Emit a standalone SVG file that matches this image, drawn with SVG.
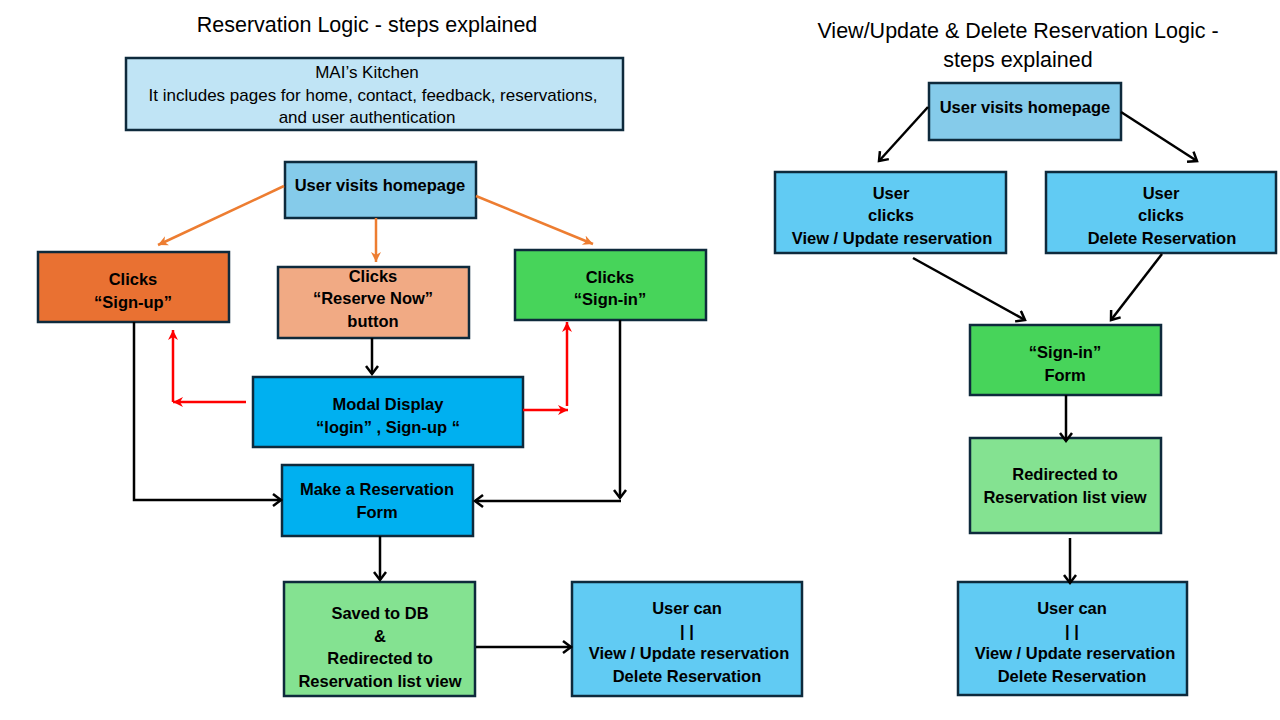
<svg xmlns="http://www.w3.org/2000/svg" width="1280" height="720" viewBox="0 0 1280 720">
<defs>
<marker id="ah" markerWidth="14" markerHeight="14" refX="10" refY="7" orient="auto" markerUnits="userSpaceOnUse"><path d="M2,1 L10,7 L2,13" fill="none" stroke="#000" stroke-width="2.5"/></marker>
<marker id="ao" markerWidth="12" markerHeight="12" refX="10" refY="5" orient="auto" markerUnits="userSpaceOnUse"><path d="M0,0 L10,5 L0,10 L3,5 Z" fill="#ed7d31"/></marker>
<marker id="ar" markerWidth="12" markerHeight="12" refX="10" refY="5" orient="auto" markerUnits="userSpaceOnUse"><path d="M0,0 L10,5 L0,10 L3,5 Z" fill="#ff0000"/></marker>
</defs>
<style>
.box{stroke:#0e2a3c;stroke-width:2.5}
.t{font-family:"Liberation Sans",Arial,sans-serif;font-weight:bold;font-size:16.5px;fill:#000;text-anchor:middle;dominant-baseline:central}
.n{font-family:"Liberation Sans",Arial,sans-serif;font-size:17px;fill:#000;text-anchor:middle;dominant-baseline:central}
.h{font-family:"Liberation Sans",Arial,sans-serif;font-size:21.5px;fill:#000;text-anchor:middle;dominant-baseline:central}
.k{fill:none;stroke:#000;stroke-width:2.5}
.o{fill:none;stroke:#ed7d31;stroke-width:2.5}
.r{fill:none;stroke:#ff0000;stroke-width:2.5}
</style>
<rect width="1280" height="720" fill="#fff"/>
<text class="h" x="367" y="25">Reservation Logic - steps explained</text>
<text class="h" x="1018" y="31">View/Update &amp; Delete Reservation Logic -</text>
<text class="h" x="1018" y="60">steps explained</text>

<g id="kitchen"><rect class="box" x="126" y="58" width="497" height="72" fill="#c0e4f5"/>
<text class="n" x="367" y="72">MAI’s Kitchen</text>
<text class="n" x="373" y="95">It includes pages for home, contact, feedback, reservations,</text>
<text class="n" x="367" y="117">and user authentication</text></g>

<g id="home1"><rect class="box" x="285" y="162" width="191" height="56" fill="#85cbea"/>
<text class="t" x="380" y="185">User visits homepage</text></g>

<g id="signup"><rect class="box" x="38" y="252" width="191" height="70" fill="#e97132"/>
<text class="t" x="133" y="279">Clicks</text><text class="t" x="133" y="302">“Sign-up”</text></g>

<g id="reserve"><rect class="box" x="278" y="267" width="191" height="71" fill="#f1aa84"/>
<text class="t" x="373" y="276">Clicks</text><text class="t" x="373" y="298">“Reserve Now”</text><text class="t" x="373" y="321">button</text></g>

<g id="signin"><rect class="box" x="515" y="250" width="191" height="70" fill="#47d45a"/>
<text class="t" x="610" y="277">Clicks</text><text class="t" x="610" y="299">“Sign-in”</text></g>

<g id="modal"><rect class="box" x="253" y="377" width="270" height="70" fill="#00b0f0"/>
<text class="t" x="388" y="404">Modal Display</text><text class="t" x="388" y="427">“login” , Sign-up “</text></g>

<g id="form"><rect class="box" x="282" y="465" width="191" height="71" fill="#00b0f0"/>
<text class="t" x="377" y="489">Make a Reservation</text><text class="t" x="377" y="512">Form</text></g>

<g id="saved"><rect class="box" x="284" y="582" width="191" height="114" fill="#84e291"/>
<text class="t" x="380" y="613">Saved to DB</text><text class="t" x="380" y="636">&amp;</text><text class="t" x="380" y="658">Redirected to</text><text class="t" x="380" y="681">Reservation list view</text></g>

<g id="usercan1"><rect class="box" x="572" y="582" width="230" height="114" fill="#61cbf3"/>
<text class="t" x="687" y="608">User can</text><text class="t" x="687" y="631">| |</text><text class="t" x="689" y="653">View / Update reservation</text><text class="t" x="687" y="676">Delete Reservation</text></g>

<g id="home2"><rect class="box" x="929" y="83" width="192" height="57" fill="#85cbea"/>
<text class="t" x="1025" y="107">User visits homepage</text></g>

<g id="viewupd"><rect class="box" x="775" y="172" width="231" height="81" fill="#61cbf3"/>
<text class="t" x="891" y="193">User</text><text class="t" x="891" y="215">clicks</text><text class="t" x="892" y="238">View / Update reservation</text></g>

<g id="delete"><rect class="box" x="1046" y="172" width="230" height="81" fill="#61cbf3"/>
<text class="t" x="1161" y="193">User</text><text class="t" x="1161" y="215">clicks</text><text class="t" x="1162" y="238">Delete Reservation</text></g>

<g id="signinform"><rect class="box" x="970" y="325" width="191" height="70" fill="#47d45a"/>
<text class="t" x="1065" y="352">“Sign-in”</text><text class="t" x="1065" y="375">Form</text></g>

<g id="redirected"><rect class="box" x="970" y="438" width="191" height="95" fill="#84e291"/>
<text class="t" x="1065" y="474">Redirected to</text><text class="t" x="1065" y="497">Reservation list view</text></g>

<g id="usercan2"><rect class="box" x="958" y="582" width="229" height="113" fill="#61cbf3"/>
<text class="t" x="1072" y="608">User can</text><text class="t" x="1072" y="631">| |</text><text class="t" x="1075" y="653">View / Update reservation</text><text class="t" x="1072" y="676">Delete Reservation</text></g>

<g id="connectors">
<path class="o" d="M284,186 L158,245" marker-end="url(#ao)"/>
<path class="o" d="M376,218 L376,262" marker-end="url(#ao)"/>
<path class="o" d="M476,196 L593,244" marker-end="url(#ao)"/>
<path class="k" d="M134,322 L134,500 L281,500" marker-end="url(#ah)"/>
<path class="k" d="M372,338 L372,374" marker-end="url(#ah)"/>
<path class="k" d="M620,320 L620,498" marker-end="url(#ah)"/>
<path class="k" d="M621,501 L475,501" marker-end="url(#ah)"/>
<path class="k" d="M380,536 L380,580" marker-end="url(#ah)"/>
<path class="k" d="M476,647 L571,647" marker-end="url(#ah)"/>
<path class="r" d="M246,402 L173,402" marker-end="url(#ar)"/>
<path class="r" d="M173,402 L173,330" marker-end="url(#ar)"/>
<path class="r" d="M523,410 L568,410" marker-end="url(#ar)"/>
<path class="r" d="M567,406 L567,322" marker-end="url(#ar)"/>
<path class="k" d="M928,107 L879,161" marker-end="url(#ah)"/>
<path class="k" d="M1121,112 L1197,161" marker-end="url(#ah)"/>
<path class="k" d="M913,258 L1025,320" marker-end="url(#ah)"/>
<path class="k" d="M1162,254 L1111,320" marker-end="url(#ah)"/>
<path class="k" d="M1066,395 L1066,441" marker-end="url(#ah)"/>
<path class="k" d="M1070,538 L1070,583" marker-end="url(#ah)"/>
</g>
</svg>
